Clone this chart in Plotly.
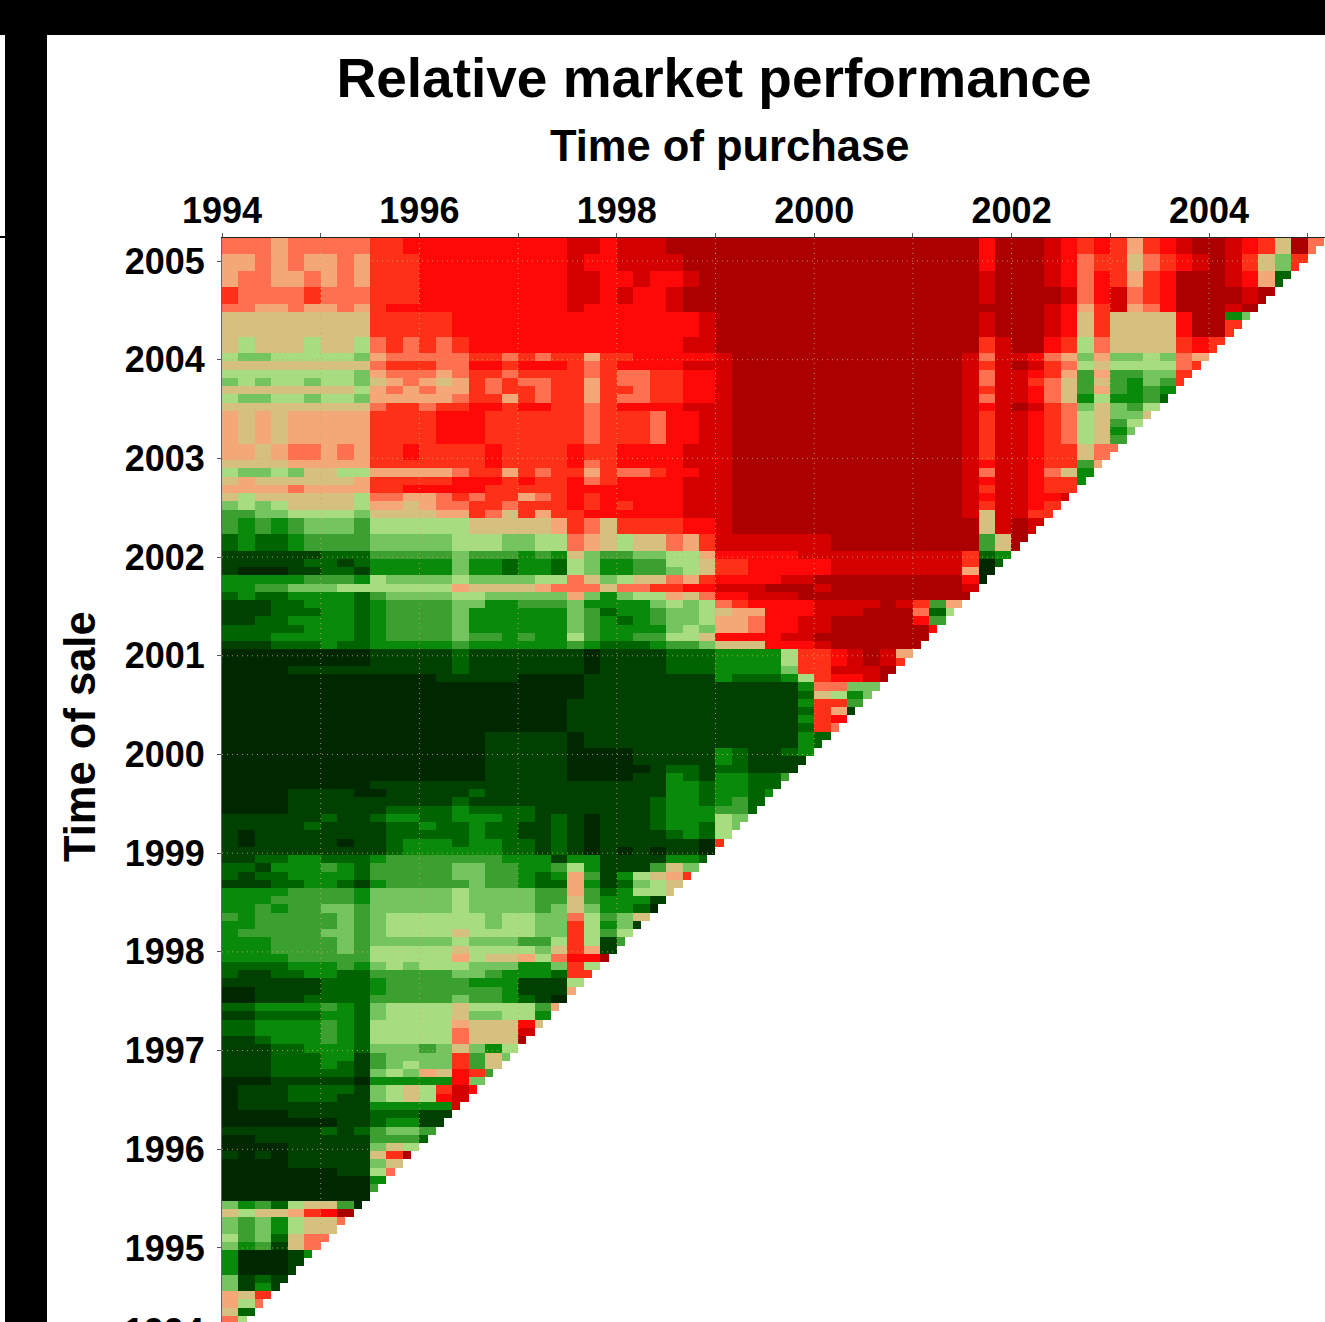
import plotly.graph_objects as go

YEARS = list(range(1994, 2006))
X_TICK_TEXT = ["1994", "", "1996", "", "1998", "", "2000", "", "2002", "", "2004", ""]
Y_TICK_YEARS = list(range(1995, 2006))

# level of each sale-date band (top to bottom); one char per two purchase months.
# groups: 1994-95 | 95-97 | 97-99 | 99-2001 | 2001 onward
ROW_MONTHS = [2, 2, 2, 2, 1, 1, 1, 1, 2] + [1] * 11 + [2] + [1] * 7 + [2, 2] + [1] * 22 + [2] + [1] * 70
LEVEL_ROWS = [
    "999899999 aabbbbbbbbbb ccbcccddd dddddddddddddddd bdddcbaba8abcddcba7d97",
    "889898898 aaabbbbbbbbb cbbccccdd dddddddddddddddd bdddcb9aa79abcdca75a",
    "899889898 aaabbbbbbbbb ccbbcbbcd dddddddddddddddd cdddcb9ba8abdddcb824",
    "a9999a999 aaabbbbbbbbb ccbcbbcdd dddddddddddddddd cddddc9bc9abddddcd",
    "998898898 abbbbbbbbbbb cbbbbbcdd dddddddddddddddd ddddcb8ac89bdddcd",
    "777777777 aaaaabbbbbbb bbbbbbbbc dddddddddddddddd cdddcb7a7777bdd35",
    "777777777 aaaaabbbbbbb bbbbbbbbc dddddddddddddddd cdddcb7a7777bdda6",
    "777777777 aaaaabbbbbbb bbbbbbbbc dddddddddddddddd cdddcb7a7777bdda",
    "767776776 9a9a9abbbbbb bbbbbbbcc dddddddddddddddd acddba697777abad",
    "655666665 899999aa9a9a a8aabbbbb cddddddddddddddc 9ccb98585565983",
    "777777777 9aaa99bbabbb a9abbbbcc cddddddddddddddc acdca96766669a",
    "666666665 899989aa9aaa a9a99aabb cddddddddddddddc 9ccba8484455aa",
    "565665665 789878a9a99a a8a99aabb cddddddddddddddc 9cca97474354a6",
    "777777776 898988a9aa9a a8aa9aabb cddddddddddddddc accb97484343a",
    "655665665 888889aa8a9a a8a99aabb cddddddddddddddc 9ccb973633421",
    "777777777 9aa9aabbabba a9abbbbcc cddddddddddddddc bcdca9575464",
    "878788888 aaaabbbaaaaa a9aaa9bbc cddddddddddddddc accba967557",
    "878788888 aaaabbbaaaaa a9aaa9bbc cddddddddddddddc accba967467",
    "878788888 aaaabbbaaaaa a9aaa9bbc cddddddddddddddc accba96735",
    "878788888 aaaabbbaaaaa a9aaa9bbc cddddddddddddddc accba96745",
    "887899898 aabaaaabaaaa baabbbbcc cddddddddddddddc accbaa799",
    "777788888 aaaaaaabaaaa b9abbbbcc cddddddddddddddc bccbaa48c",
    "655657766 888889aa8a9a a8a99abbc cddddddddddddddc 9ccb9731",
    "787777778 aaaaabbbabaa b9abbbbcc cddddddddddddddc bccbaa3",
    "888898888 aabbbbbaaaaa bbbbbbbcc cddddddddddddddc accbaaa",
    "767777776 99889a9aa89a babbbbbcc cddddddddddddddc bccbbc",
    "565677776 887899aa9aaa bababbbcc cddddddddddddddc accba8",
    "445566665 777788a97a8a abbbbbbcc cddddddddddddddc 7cca",
    "434345554 666666777778 a97aaaabb cddddddddddddddd 7cdc",
    "232234444 555556665566 98767798a cccccccddddddddd 47dc",
    "111111222 444445444343 754455668 bbbbbcccccccccca 23b",
    "111112212 333335332332 653344667 aabbbbbcccccccca 028",
    "100011221 333335332332 653344567 aabbbbbcccccccc8 00",
    "333334443 655556555566 97567798a bbbbccdddddddddb 0",
    "334455566 666668777789 99799aabb cccdddcddddddddc",
    "232233332 455556655555 853566879 bbcccddddddddddd",
    "111223332 344445533444 533335656 9abbbbccccdca488",
    "111222332 344445333333 542334556 788bbbcccddd9265",
    "112233332 344445333333 543234556 889bbccdddddb47",
    "222223332 344445333333 543333565 889bbccddddddb2",
    "222333332 344445443433 643344667 bbbbccddddddddc",
    "111222322 333334333333 432223445 777bbbcddddddddd",
    "000000000 111112111111 101111222 33336aabcdc8",
    "000000000 111112111111 101111222 33336aabcdca",
    "000011111 111112111111 101111222 33335aacccdc",
    "000000000 000011111000 011111111 322236abbcd",
    "000000000 000000000000 011111111 1111139955b",
    "000000000 000000000000 011111111 1111127635",
    "000000000 000000000000 111111111 111113aa4b",
    "000000000 000000000000 111111111 111112a81",
    "000000000 000000000000 111111111 111113ab",
    "000000000 000000000000 111111111 111112a9",
    "000000000 000000011111 011111111 1111132",
    "000000000 000000011111 000011111 3211237",
    "000000000 000000011111 000011111 3211113",
    "000000000 000000011111 000001221 221111",
    "000000000 000000011111 000011321 33224",
    "000000000 111111111111 111111332 3322",
    "000011110 011111211111 111111332 3323",
    "000011111 111112111111 111112332 342",
    "000011111 122223222211 111112333 442",
    "111111211 233223332212 101112333 657",
    "111112111 122322322112 101112332 657",
    "101111111 122222322112 101111232 64",
    "101111101 123332332212 101111110 a",
    "111111111 123333332212 101010110",
    "112233222 344444443331 331111332",
    "221333432 444445544334 631114753",
    "212233332 444445544323 8413678a",
    "111223321 344444544322 83125676",
    "333344443 555556555544 84236678",
    "333444443 555556555544 7433310",
    "334344554 555556555545 753320",
    "434444454 566666656655 964579",
    "334444454 566666656655 a6351",
    "344444554 566667666655 a6467",
    "333444454 555556555446 a614",
    "333444454 666667666657 a81",
    "333344444 666668677869 bbd",
    "222233343 565666555335 a6",
    "211223322 444445543332 aa",
    "111111222 344444333111 65",
    "001111222 344444443111 8",
    "001112222 444445443210",
    "223333432 566667666648",
    "112222332 566667556631",
    "223333432 666668777b7",
    "223333432 666669777ca",
    "112333432 666669777d",
    "111223332 5554575363",
    "111222331 45555a475",
    "111222321 45655a473",
    "111222221 56587ba4",
    "000111110 33333b50",
    "011122221 5676acb6",
    "011122211 5676bcb",
    "011111111 33333c",
    "000011111 222113",
    "000000011 233110",
    "111111212 4554b",
    "001111111 44421",
    "000011111 5765",
    "101011111 7ad",
    "000011111 573",
    "000000011 69",
    "000000000 33",
    "000000000 4",
    "000000000 0",
    "534267740",
    "76778abd",
    "54536779",
    "54536774",
    "64527998",
    "534179a",
    "300013",
    "300018",
    "30001",
    "51218",
    "5131",
    "87aa",
    "869",
    "72",
    "96",
]
LEVEL_COLOURS = ["#002800", "#004000", "#006400", "#0a8a0a", "#3ca030", "#74c460", "#a8dc80",
                 "#d6c080", "#f4a878", "#ff7050", "#ff3018", "#ff0808", "#d40000", "#ac0000"]

GROUP_LENGTHS = [9, 12, 9, 16, 22]
X_START, X_END = 1994.0, 2005.175
Y_TOP, Y_BOTTOM = 2005.233, 1994.25
FONT = "Liberation Sans"


def row_cells(text):
    cells = []
    parts = text.split()
    for size, part in zip(GROUP_LENGTHS, parts):
        part = part[:size]
        cells.extend(part)
        if len(part) < size:
            cells.extend(part[-1] * (size - len(part)))
    return [int(c, 16) for c in cells]


z = []
for text, months in zip(LEVEL_ROWS, ROW_MONTHS):
    cells = row_cells(text)
    for _ in range(months):
        used = max(134 - len(z), 0)
        line = []
        for j in range(134):
            if j < used:
                line.append(cells[min(j // 2, len(cells) - 1)])
            else:
                line.append(None)
        z.append(line)

xs = [X_START + (j + 0.5) / 12 for j in range(134)]
ys = [Y_TOP - (i + 0.5) / 12 for i in range(len(z))]
scale = [[k / (len(LEVEL_COLOURS) - 1), c] for k, c in enumerate(LEVEL_COLOURS)]

fig = go.Figure(go.Heatmap(x=xs, y=ys, z=z, zmin=0, zmax=13, colorscale=scale, showscale=False,
                           hoverongaps=False))

grid = dict(color="rgba(196,176,90,0.85)", width=1, dash="1px,4px")
shapes = []
for yr in YEARS[1:-1]:
    shapes.append(dict(type="line", xref="x", yref="y", x0=yr, x1=yr, y0=Y_TOP, y1=yr, line=grid, layer="above"))
for yr in Y_TICK_YEARS:
    shapes.append(dict(type="line", xref="x", yref="y", x0=X_START, x1=yr, y0=yr, y1=yr, line=grid, layer="above"))


def px(v):
    return (v - 222) / 1103


def py(v):
    return (1322 - v) / 1084


for x0, y0, x1, y1 in [(0, 0, 1325, 35), (5, 35, 47, 1322), (0, 236, 5, 238)]:
    shapes.append(dict(type="rect", xref="paper", yref="paper", x0=px(x0), x1=px(x1), y0=py(y0), y1=py(y1),
                       fillcolor="black", line_width=0, layer="above"))

LABEL_FONT = dict(family=FONT, size=43.5, weight=700, color="black")
TICK_FONT = dict(family=FONT, size=36, weight=700, color="black")

fig.update_layout(
    width=1325, height=1322, autosize=False,
    margin=dict(l=222, r=0, t=238, b=0, pad=0),
    paper_bgcolor="white", plot_bgcolor="white",
    font=dict(family=FONT, color="black"),
    title=dict(text="Relative market performance", x=714 / 1325, xref="container", xanchor="center",
               y=1 - 78 / 1322, yref="container", yanchor="middle",
               font=dict(family=FONT, size=55, weight=700, color="black")),
    shapes=shapes,
    xaxis=dict(side="top", range=[X_START, X_END], tickmode="array", tickvals=YEARS, ticktext=X_TICK_TEXT,
               tickfont=TICK_FONT, ticks="outside", ticklen=4, tickcolor="#555", ticklabelstandoff=-4,
               showgrid=False, zeroline=False, showline=True, linecolor="#222", linewidth=1),
    yaxis=dict(range=[Y_BOTTOM, Y_TOP], tickmode="array", tickvals=Y_TICK_YEARS,
               ticktext=[str(y) for y in Y_TICK_YEARS],
               tickfont=TICK_FONT, ticks="outside", ticklen=4, tickcolor="#555", ticklabelstandoff=5,
               showgrid=False, zeroline=False, showline=True, linecolor="#666", linewidth=1),
    annotations=[
        dict(text="1994", xref="paper", yref="paper", x=px(206), y=py(1331), xanchor="right",
             yanchor="middle", showarrow=False, font=TICK_FONT),
        dict(text="Time of purchase", xref="paper", yref="paper", x=px(729.5), y=py(146), xanchor="center",
             yanchor="middle", showarrow=False, font=LABEL_FONT),
        dict(text="Time of sale", xref="paper", yref="paper", x=px(80), y=py(737), xanchor="center",
             yanchor="middle", textangle=-90, showarrow=False, font=LABEL_FONT),
    ],
)

fig.write_html("out.html", config={"displayModeBar": False},
               post_script="document.body.style.margin='0';document.body.style.overflow='hidden';")
